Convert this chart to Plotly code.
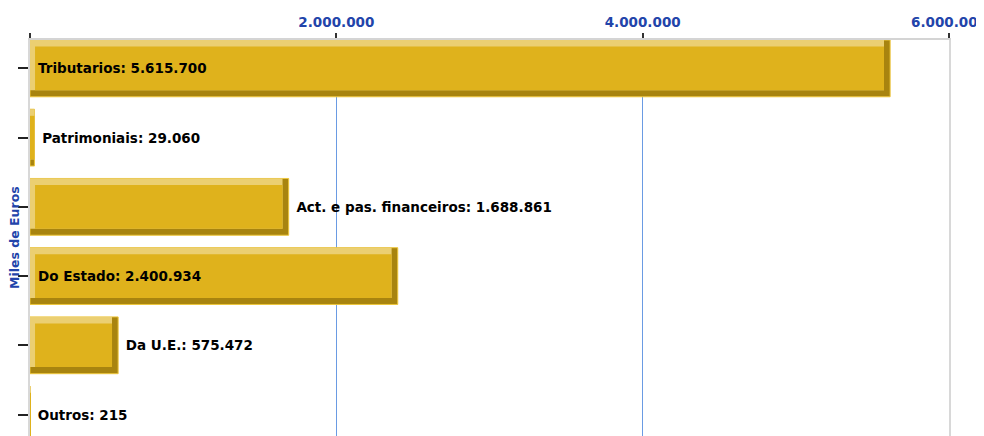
import plotly.graph_objects as go

categories = ["Tributarios", "Patrimoniais", "Act. e pas. financeiros", "Do Estado", "Da U.E.", "Outros"]
values = [5615700, 29060, 1688861, 2400934, 575472, 215]
label_inside = [True, False, False, True, False, False]
tick_vals = [0, 2000000, 4000000, 6000000]
tick_text = ["", "2.000.000", "4.000.000", "6.000.000"]
axis_title = "Miles de Euros"


def fmt(v):
    return f"{v:,}".replace(",", ".")


labels = [f"{c}: {fmt(v)}" for c, v in zip(categories, values)]

# bevel styling (derived sizes)
BW = 0.82          # bar thickness in category units
SY = 0.095         # bevel thickness (vertical)
SXR = 40000        # right bevel (data units)
SXL = 33000        # left bevel (data units)
small = [v < 3 * (SXR + SXL) for v in values]

light_x = [v if s else v - SXR for v, s in zip(values, small)]
face_base = [0 if s else SXL for s in small]
face_x = [v if s else v - SXR - SXL for v, s in zip(values, small)]

FONT = "DejaVu Sans"
GOLD = "#DFB21C"
LIGHT = "#EBCF72"
DARK = "#A8840F"
BLUE = "#2244AA"

fig = go.Figure()
fig.add_trace(go.Bar(
    y=categories, x=values, orientation="h", width=BW, offset=-BW / 2,
    marker=dict(color=DARK, line=dict(color="#EDC53A", width=1)),
    hoverinfo="skip", showlegend=False))
fig.add_trace(go.Bar(
    y=categories, x=light_x, orientation="h", width=BW - SY, offset=-BW / 2,
    marker=dict(color=LIGHT, line=dict(width=0)),
    hoverinfo="skip", showlegend=False))
fig.add_trace(go.Bar(
    y=categories, x=face_x, base=face_base, orientation="h",
    width=BW - 2 * SY, offset=-BW / 2 + SY,
    marker=dict(color=GOLD, line=dict(width=0)),
    text=[t if i else "" for t, i in zip(labels, label_inside)],
    textposition="inside", insidetextanchor="start", textangle=0,
    constraintext="none",
    insidetextfont=dict(family=FONT, size=13.5, color="black", weight="bold"),
    hoverinfo="skip", showlegend=False))
fig.add_trace(go.Bar(
    y=categories, x=values, orientation="h", width=BW, offset=-BW / 2,
    marker=dict(color="rgba(0,0,0,0)", line=dict(width=0)),
    text=["" if i else "\u00a0" + t for t, i in zip(labels, label_inside)],
    textposition="outside", textangle=0, cliponaxis=False, constraintext="none",
    outsidetextfont=dict(family=FONT, size=13.5, color="black", weight="bold"),
    hoverinfo="skip", showlegend=False))

fig.update_layout(
    width=984, height=436,
    margin=dict(l=22, r=43, t=32, b=8, autoexpand=False),
    barmode="overlay",
    plot_bgcolor="white", paper_bgcolor="white",
    separators=",.",
    xaxis=dict(
        side="top", range=[0, 6000000], tickvals=tick_vals, ticktext=tick_text,
        automargin=False, ticklabeloverflow="allow", ticklabelstandoff=1,
        tickfont=dict(family=FONT, size=13.5, color=BLUE, weight="bold"),
        ticks="outside", ticklen=5, tickwidth=1.5, tickcolor="#333333",
        showline=True, linecolor="#D4D4D4", linewidth=1.5,
        showgrid=True, gridcolor="#6A9BE3", gridwidth=1,
        zeroline=False,
    ),
    yaxis=dict(
        type="category", categoryorder="array", categoryarray=categories,
        range=[5.31, -0.41], showticklabels=False, automargin=False,
        ticks="outside", ticklen=10, tickwidth=1.5, tickcolor="#222222",
        showline=True, linecolor="#D8D8D8", linewidth=2, mirror=True,
        showgrid=False, zeroline=False,
    ),
    annotations=[dict(
        text=axis_title, xref="paper", yref="paper", x=0, y=0.5,
        xanchor="center", yanchor="middle", xshift=-16, textangle=-90,
        showarrow=False,
        font=dict(family=FONT, size=12.5, color=BLUE, weight="bold"))],
)

fig.write_html("out.html")
